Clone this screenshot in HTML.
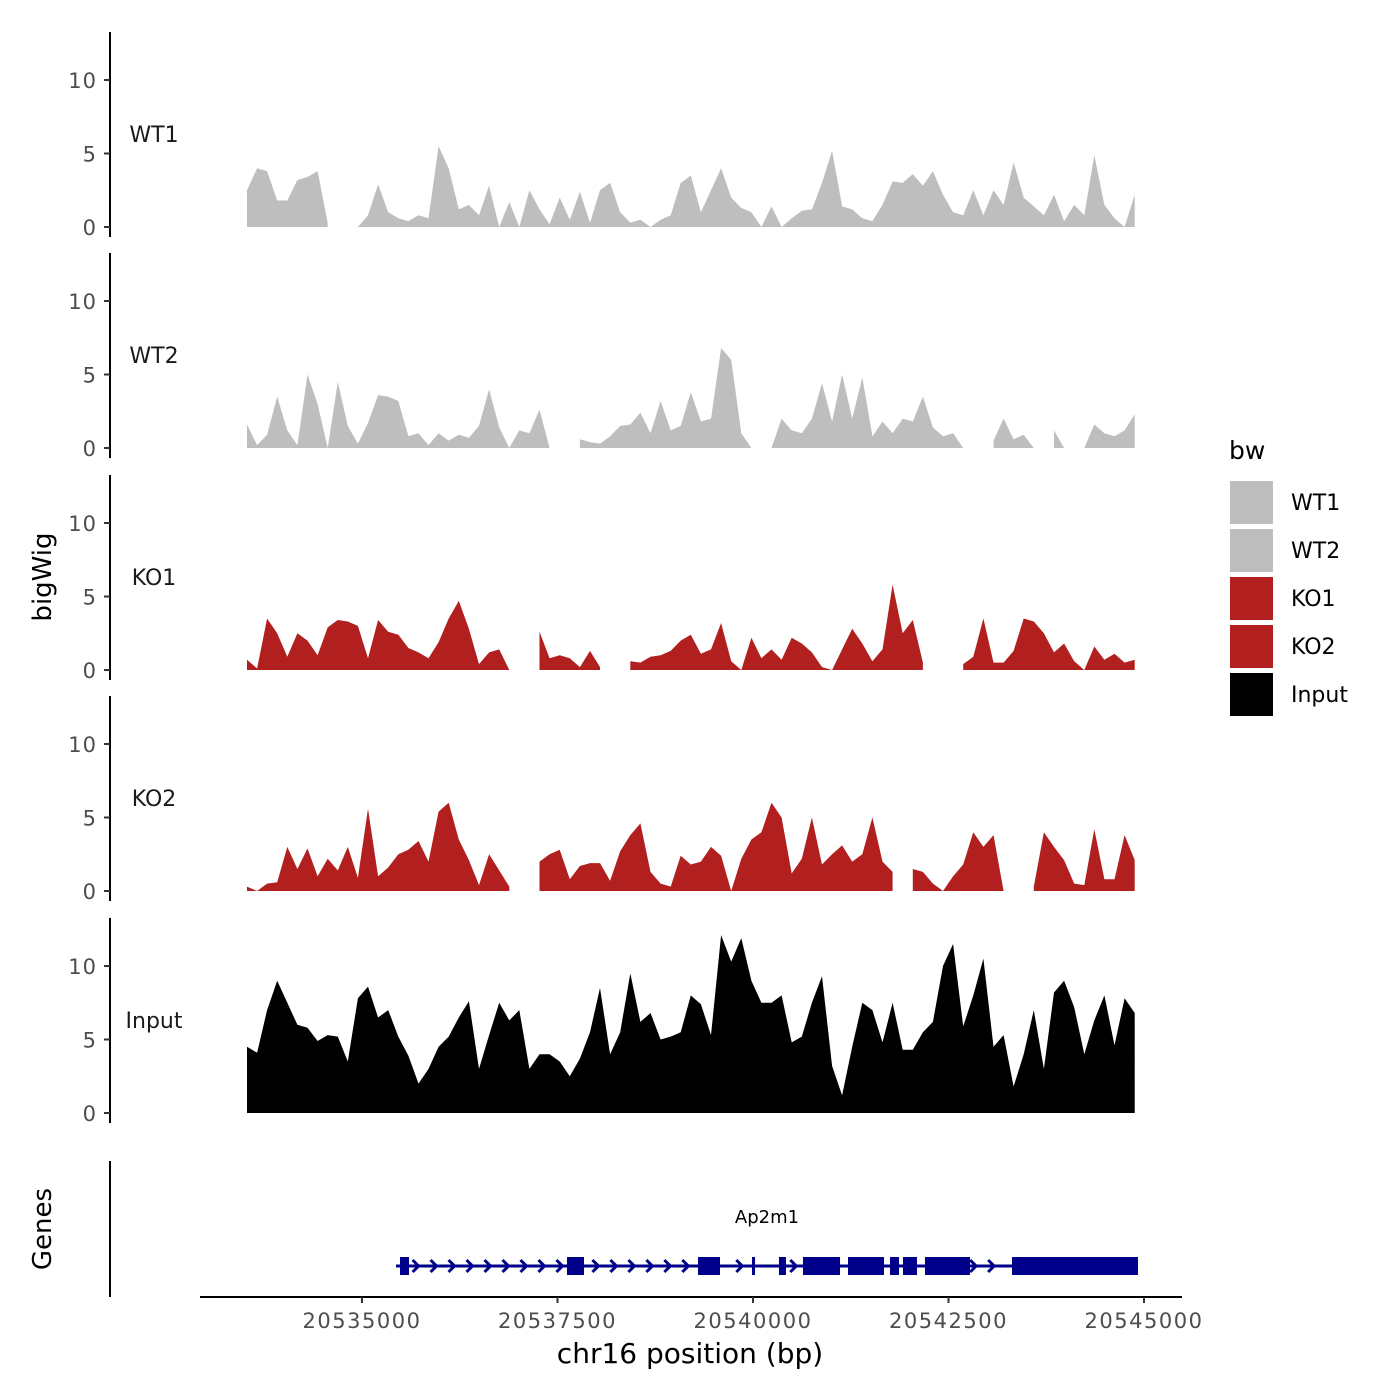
<!DOCTYPE html>
<html><head><meta charset="utf-8"><style>
body{margin:0;background:#fff}
svg{display:block;font-family:"DejaVu Sans","Liberation Sans",sans-serif}
</style></head><body>
<svg id="chart" width="1400" height="1400" viewBox="0 0 1400 1400">
<rect width="1400" height="1400" fill="#fff"/>
<g id="tracks"></g>
<g id="genes"></g>
<g id="xaxis"></g>
<text x="51" y="577" font-size="26" text-anchor="middle" transform="rotate(-90 51 577)" fill="#000">bigWig</text>
<text x="51" y="1229" font-size="26" text-anchor="middle" transform="rotate(-90 51 1229)" fill="#000">Genes</text>
<text x="690" y="1363" font-size="28" text-anchor="middle" fill="#000">chr16 position (bp)</text>
<g id="legend"></g>
</svg>
<script>
const NS='http://www.w3.org/2000/svg';
const startBp=20533529;
const stepBp=129;
const trackNames=['WT1','WT2','KO1','KO2','Input'];
const trackColors=['#bebebe','#bebebe','#b21f1f','#b21f1f','#000000'];
const wt1=[2.5,4.0,3.8,1.8,1.8,3.2,3.4,3.8,0.3,null,null,0,0.8,2.9,1.0,0.6,0.4,0.8,0.6,5.5,4.0,1.2,1.5,0.8,2.8,0,1.7,0,2.5,1.2,0.2,2.0,0.5,2.4,0.3,2.5,3.0,1.0,0.3,0.5,0,0.5,0.8,3.0,3.5,1.0,2.5,4.0,2.0,1.3,1.0,0,1.4,0,0.6,1.1,1.2,3.0,5.2,1.4,1.2,0.6,0.4,1.5,3.1,3.0,3.6,2.8,3.8,2.2,1.0,0.8,2.5,0.8,2.5,1.5,4.4,2.0,1.4,0.8,2.2,0.4,1.5,0.8,4.9,1.5,0.6,0,2.2];
const wt2=[1.6,0.2,0.9,3.5,1.2,0.2,5.0,3.0,0,4.5,1.5,0.3,1.7,3.6,3.5,3.2,0.8,1.0,0.2,1.0,0.5,0.9,0.7,1.5,4.0,1.4,0,1.2,1.0,2.6,0,null,null,0.6,0.4,0.3,0.8,1.5,1.6,2.4,1.0,3.2,1.2,1.5,3.8,1.8,2.0,6.8,6.0,1.0,0,null,0,2.0,1.2,1.0,2.0,4.4,1.8,5.0,2.0,4.8,0.8,1.8,1.0,2.0,1.8,3.5,1.4,0.8,1.0,0,null,null,0.5,2.0,0.6,0.9,0,null,1.2,0,null,0,1.6,1.0,0.8,1.2,2.3];
const ko1=[0.7,0.1,3.5,2.5,0.9,2.5,2.0,1.0,2.9,3.4,3.3,3.0,0.8,3.4,2.6,2.4,1.5,1.2,0.8,1.9,3.5,4.7,2.8,0.4,1.2,1.4,0,null,null,2.6,0.8,1.0,0.8,0.2,1.3,0.2,null,null,0.6,0.5,0.9,1.0,1.3,2.0,2.4,1.1,1.4,3.2,0.6,0,2.2,0.8,1.4,0.7,2.2,1.8,1.2,0.2,0,1.4,2.8,1.8,0.6,1.4,5.8,2.5,3.4,0.5,null,null,null,0.4,0.9,3.5,0.5,0.5,1.3,3.5,3.3,2.5,1.2,1.8,0.6,0,1.6,0.7,1.1,0.5,0.7];
const ko2=[0.3,0,0.5,0.6,3.0,1.5,2.9,1.0,2.2,1.4,3.0,0.9,5.6,1.0,1.6,2.5,2.8,3.4,2.0,5.4,6.0,3.5,2.1,0.4,2.5,1.4,0.3,null,null,2.0,2.5,2.8,0.8,1.7,1.9,1.9,0.7,2.7,3.8,4.6,1.3,0.5,0.3,2.4,1.8,2.0,3.0,2.4,0,2.2,3.5,4.0,6.0,5.0,1.2,2.2,5.0,1.8,2.5,3.1,2.0,2.5,5.0,2.0,1.3,null,1.5,1.3,0.5,0,1.0,1.8,4.0,3.0,3.8,0,null,null,0.3,4.0,3.0,2.1,0.5,0.4,4.2,0.8,0.8,3.8,2.1];
const input=[4.5,4.1,7.0,9.0,7.5,6.0,5.8,4.9,5.3,5.2,3.5,7.8,8.6,6.5,7.0,5.2,3.9,2.0,3.0,4.5,5.2,6.5,7.6,3.0,5.3,7.5,6.3,7.0,3.0,4.0,4.0,3.5,2.5,3.7,5.5,8.5,4.0,5.5,9.5,6.2,6.8,5.0,5.2,5.5,8.0,7.4,5.3,12.1,10.3,11.9,9.0,7.5,7.5,8.0,4.8,5.2,7.5,9.3,3.2,1.2,4.5,7.5,7.0,4.8,7.5,4.3,4.3,5.5,6.2,10.0,11.5,5.9,8.0,10.5,4.5,5.3,1.8,4.0,7.0,3.0,8.2,9.0,7.2,4.0,6.3,8.0,4.6,7.8,6.8];
const trackValues=[wt1,wt2,ko1,ko2,input];
const yTicks=[0,5,10];
const xTicks=[20535000,20537500,20540000,20542500,20545000];
const geneName='Ap2m1';
const geneStart=20535435, geneEnd=20544923;
const exonStarts=[20535486,20537621,20539297,20539987,20540332,20540639,20541215,20541752,20541918,20542199,20543312];
const exonEnds=[20535601,20537839,20539578,20540026,20540422,20541113,20541675,20541867,20542097,20542775,20544923];

const xScale=bp=>362+(bp-20535000)*0.0782;
const panelZero=[227,448,670,891,1113];
const pxPerUnit=14.7;
function mk(tag,attrs,parent){const e=document.createElementNS(NS,tag);for(const k in attrs)e.setAttribute(k,attrs[k]);parent.appendChild(e);return e;}

const tracks=document.getElementById('tracks');
trackNames.forEach((name,t)=>{
  const z=panelZero[t];
  const yS=v=>z-v*pxPerUnit;
  const g=mk('g',{},tracks);
  
  
  const ax=mk('line',{x1:110,x2:110,y1:z-195,y2:z+10,stroke:'#000','stroke-width':2},g);
  
  
  yTicks.forEach(v=>{
    const tk=mk('line',{x1:104,x2:110,y1:yS(v),y2:yS(v),stroke:'#333','stroke-width':2},g);
    
    
    const tl=mk('text',{x:97,y:yS(v)+8,'font-size':21,'letter-spacing':1,'text-anchor':'end',fill:'#4d4d4d'},g);
    tl.textContent=v;
    
    
  });
  const lab=mk('text',{x:154,y:z-85,'font-size':22,'text-anchor':'middle',fill:'#1a1a1a'},g);
  lab.textContent=name;
  
  
  const vals=trackValues[t];
  let run=[];
  const flush=()=>{
    if(run.length>1){
      let d='M'+run[0][0].toFixed(1)+','+z;
      run.forEach(p=>{d+=' L'+p[0].toFixed(1)+','+yS(p[1]).toFixed(1);});
      d+=' L'+run[run.length-1][0].toFixed(1)+','+z+' Z';
      const p=mk('path',{d:d,fill:trackColors[t]},g);
      
      
    }
    run=[];
  };
  vals.forEach((v,i)=>{
    if(v===null){flush();return;}
    run.push([xScale(startBp+i*stepBp),v]);
  });
  flush();
});

const gg=document.getElementById('genes');
const gl=mk('line',{x1:110,x2:110,y1:1161,y2:1297,stroke:'#000','stroke-width':2},gg);


const gy=1266;
const gline=mk('line',{x1:xScale(geneStart),x2:xScale(geneEnd),y1:gy,y2:gy,stroke:'#00008b','stroke-width':3},gg);


for(let bp=geneStart+20;bp<geneEnd;bp+=230){
  let inExon=false;
  for(let k=0;k<exonStarts.length;k++){if(bp>exonStarts[k]-60&&bp<exonEnds[k]+40)inExon=true;}
  if(inExon)continue;
  const x=xScale(bp);
  const c=mk('path',{d:`M${x-3},${gy-6} L${x+3},${gy} L${x-3},${gy+6}`,stroke:'#00008b','stroke-width':3,fill:'none'},gg);
  
  
}
exonStarts.forEach((s,k)=>{
  const x1=xScale(s),x2=xScale(exonEnds[k]);
  const r=mk('rect',{x:x1,y:gy-9,width:Math.max(3,x2-x1),height:18,fill:'#00008b'},gg);
  
  
});
const gn=mk('text',{x:767,y:1223,'font-size':18,'text-anchor':'middle',fill:'#000'},gg);
gn.textContent=geneName;



const xg=document.getElementById('xaxis');
const xl=mk('line',{x1:200,x2:1182,y1:1297,y2:1297,stroke:'#000','stroke-width':2},xg);


xTicks.forEach(v=>{
  const x=xScale(v);
  const tk=mk('line',{x1:x,x2:x,y1:1297,y2:1303,stroke:'#333','stroke-width':2},xg);
  
  
  const tl=mk('text',{x:x,y:1328,'font-size':21,'letter-spacing':1.5,'text-anchor':'middle',fill:'#4d4d4d'},xg);
  tl.textContent=v;
  
  
});

const lg=document.getElementById('legend');
const lt=mk('text',{x:1229,y:459,'font-size':25,fill:'#000'},lg);
lt.textContent='bw';


trackNames.forEach((n,i)=>{
  const y=481+i*48;
  const r=mk('rect',{x:1230,y:y,width:43,height:43,fill:trackColors[i]},lg);
  
  
  const t=mk('text',{x:1291,y:y+29,'font-size':22,fill:'#000'},lg);
  t.textContent=n;
  
  
});
</script>
</body></html>
